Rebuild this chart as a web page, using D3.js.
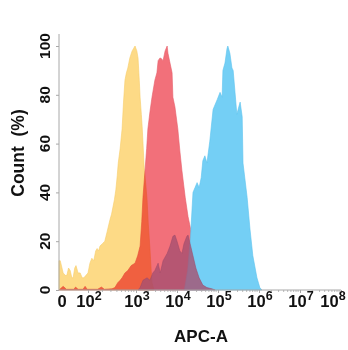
<!DOCTYPE html>
<html>
<head>
<meta charset="utf-8">
<script src="https://cdn.jsdelivr.net/npm/d3@7"></script>
<style>
  html, body { margin: 0; padding: 0; background: #fff; }
  svg { display: block; font-family: "Liberation Sans", Arial, sans-serif; }
</style>
</head>
<body>
<svg id="chart" width="348" height="350"></svg>
<script>
// ---- data (x = log10 of APC-A intensity, y = Count %) ----
const xTickValues = [1.37, 2, 3, 4, 5, 6, 7, 8];
const xTickLabels = ["0", "2", "3", "4", "5", "6", "7", "8"]; // exponents of 10 ("0" is plain zero)
const yTickValues = [0, 20, 40, 60, 80, 100];

const yellowSeries = [
  [1.30, 12], [1.33, 12], [1.40, 7], [1.45, 6], [1.49, 6], [1.53, 9], [1.57, 8], [1.61, 5], [1.64, 5],
  [1.68, 9], [1.71, 10], [1.76, 7], [1.81, 7], [1.86, 5], [1.90, 5], [1.95, 6], [2.00, 7],
  [2.04, 11], [2.08, 13], [2.12, 12], [2.16, 16], [2.19, 17], [2.22, 16], [2.25, 18], [2.30, 19],
  [2.35, 20], [2.40, 24], [2.46, 29], [2.49, 31], [2.52, 34], [2.55, 37], [2.58, 41], [2.61, 47],
  [2.63, 52], [2.67, 58], [2.71, 66], [2.74, 77], [2.77, 86], [2.80, 89], [2.83, 91], [2.87, 95],
  [2.92, 98], [2.95, 99], [2.98, 100], [3.02, 98], [3.05, 95], [3.08, 86], [3.10, 79], [3.13, 72],
  [3.15, 67], [3.18, 57], [3.20, 50], [3.24, 43], [3.27, 37], [3.30, 27], [3.34, 17], [3.37, 8],
  [3.39, 3], [3.44, 0]
];
const redSeries = [
  [1.30, 0], [1.40, 1.5], [1.48, 0.3], [1.66, 0.3], [1.70, 1.2], [1.76, 0.3], [1.88, 0.3], [1.93, 1.5],
  [1.98, 0.3], [2.20, 0.3], [2.28, 1.2], [2.34, 0.3], [2.50, 0.5], [2.56, 1], [2.62, 3], [2.67, 4],
  [2.71, 5], [2.77, 7], [2.83, 8], [2.90, 10], [2.98, 11], [3.04, 14], [3.10, 18], [3.14, 28],
  [3.17, 38], [3.22, 49], [3.26, 58], [3.29, 66], [3.34, 73], [3.39, 79], [3.46, 86], [3.51, 89],
  [3.54, 94], [3.58, 95], [3.61, 95], [3.66, 94], [3.71, 98], [3.76, 100], [3.78, 97], [3.83, 93],
  [3.88, 89], [3.90, 79], [3.95, 75], [4.02, 66], [4.07, 57], [4.12, 49], [4.20, 38], [4.27, 30],
  [4.37, 22], [4.44, 14], [4.54, 5], [4.63, 1], [4.71, 0]
];
const blueSeries = [
  [4.18, 0], [4.26, 8], [4.33, 22], [4.39, 40], [4.44, 42], [4.49, 44], [4.54, 42], [4.59, 46],
  [4.63, 53], [4.68, 55], [4.73, 52], [4.80, 61], [4.88, 74], [4.98, 78], [5.05, 81], [5.10, 79],
  [5.12, 90], [5.17, 93], [5.22, 99], [5.24, 100], [5.29, 97], [5.34, 91], [5.37, 90], [5.46, 72],
  [5.49, 74], [5.54, 77], [5.59, 71], [5.61, 52], [5.71, 38], [5.78, 25], [5.85, 14], [5.95, 5],
  [6.02, 1], [6.07, 0]
];
const mauveSeries = [
  [3.05, 0], [3.10, 1], [3.17, 4], [3.27, 5], [3.34, 4], [3.41, 7], [3.46, 8], [3.54, 11],
  [3.59, 7], [3.66, 12], [3.76, 15], [3.83, 18], [3.90, 22], [3.95, 22.5], [4.00, 20], [4.07, 16],
  [4.12, 15], [4.17, 19], [4.24, 22], [4.27, 22.5], [4.32, 19], [4.39, 14], [4.46, 9], [4.54, 5],
  [4.63, 2], [4.73, 1], [4.85, 0.5], [4.93, 0]
];

// ---- layout ----
const svg = d3.select("#chart");
const x = d3.scaleLinear().domain([1.3, 2, 3, 8]).range([59, 88, 136, 341]);
const y = d3.scaleLinear().domain([0, 100]).range([290, 46]);

const area = d3.area()
  .x(d => x(d[0]))
  .y0(y(0))
  .y1(d => y(d[1]))
  .curve(d3.curveLinear);

const plot = svg.append("g");
plot.append("path").datum(yellowSeries).attr("d", area)
  .attr("fill", "#FDDA86").attr("stroke", "#F7CC6A").attr("stroke-width", 0.6);
plot.append("path").datum(redSeries).attr("d", area)
  .attr("fill", "#F2707A").attr("stroke", "#E65E6A").attr("stroke-width", 0.6)
  .style("mix-blend-mode", "multiply");
plot.append("path").datum(blueSeries).attr("d", area)
  .attr("fill", "#74CFF5").attr("stroke", "#5CC3EE").attr("stroke-width", 0.6);
plot.append("path").datum(mauveSeries).attr("d", area)
  .attr("fill", "rgb(166,80,112)").attr("fill-opacity", 0.8)
  .attr("stroke", "rgb(155,72,104)").attr("stroke-width", 0.5);

// ---- axes ----
const axisColor = "#a8a8a8";
// y axis
const yAxis = svg.append("g").attr("transform", `translate(${x(1.3)},0)`)
  .call(d3.axisLeft(y).tickValues(yTickValues).tickSize(3).tickFormat(""));
yAxis.select(".domain").attr("stroke", axisColor).attr("d", `M0,${y(0)}V${y(100) - 12}`);
yAxis.selectAll(".tick line").attr("stroke", axisColor);

yTickValues.forEach(v => {
  svg.append("text")
    .attr("transform", `translate(49.5,${y(v)}) rotate(-90)`)
    .attr("text-anchor", "middle")
    .attr("font-size", 15.5).attr("font-weight", "bold").attr("fill", "#111")
    .text(v);
});

// x axis
const xAxis = svg.append("g").attr("transform", `translate(0,${y(0)})`)
  .call(d3.axisBottom(x).tickValues(xTickValues.slice(1)).tickSize(3).tickFormat(""));
xAxis.select(".domain").attr("stroke", axisColor).attr("d", `M${x(1.3)},0H${x(8)}`);
xAxis.selectAll(".tick line").attr("stroke", axisColor);

// minor ticks
const minor = [];
for (let dec = 2; dec < 8; dec++) for (let m = 2; m < 10; m++) minor.push(dec + Math.log10(m));
xAxis.selectAll(".minor").data(minor).enter().append("line")
  .attr("x1", d => x(d)).attr("x2", d => x(d)).attr("y1", 0).attr("y2", 2)
  .attr("stroke", axisColor).attr("stroke-width", 0.8);

xTickValues.forEach((v, i) => {
  const lab = xTickLabels[i];
  let cx = i === 0 ? 62 : x(v) + 1;
  if (i === xTickValues.length - 1) cx = 333;
  const t = svg.append("text")
    .attr("x", cx).attr("y", 307)
    .attr("text-anchor", "middle")
    .attr("font-size", 16.5).attr("font-weight", "bold").attr("fill", "#111");
  if (lab === "0") {
    t.text("0");
  } else {
    t.append("tspan").text("10");
    t.append("tspan").attr("font-size", 12.5).attr("dy", -7.5).text(lab);
  }
});

// titles
svg.append("text")
  .attr("x", 201).attr("y", 342)
  .attr("text-anchor", "middle")
  .attr("font-size", 17).attr("font-weight", "bold").attr("fill", "#111")
  .text("APC-A");

svg.append("text")
  .attr("transform", `translate(24,153) rotate(-90)`)
  .attr("text-anchor", "middle")
  .attr("font-size", 17.5).attr("font-weight", "bold").attr("fill", "#111")
  .attr("xml:space", "preserve")
  .style("white-space", "pre")
  .text("Count  (%)");
</script>
</body>
</html>
